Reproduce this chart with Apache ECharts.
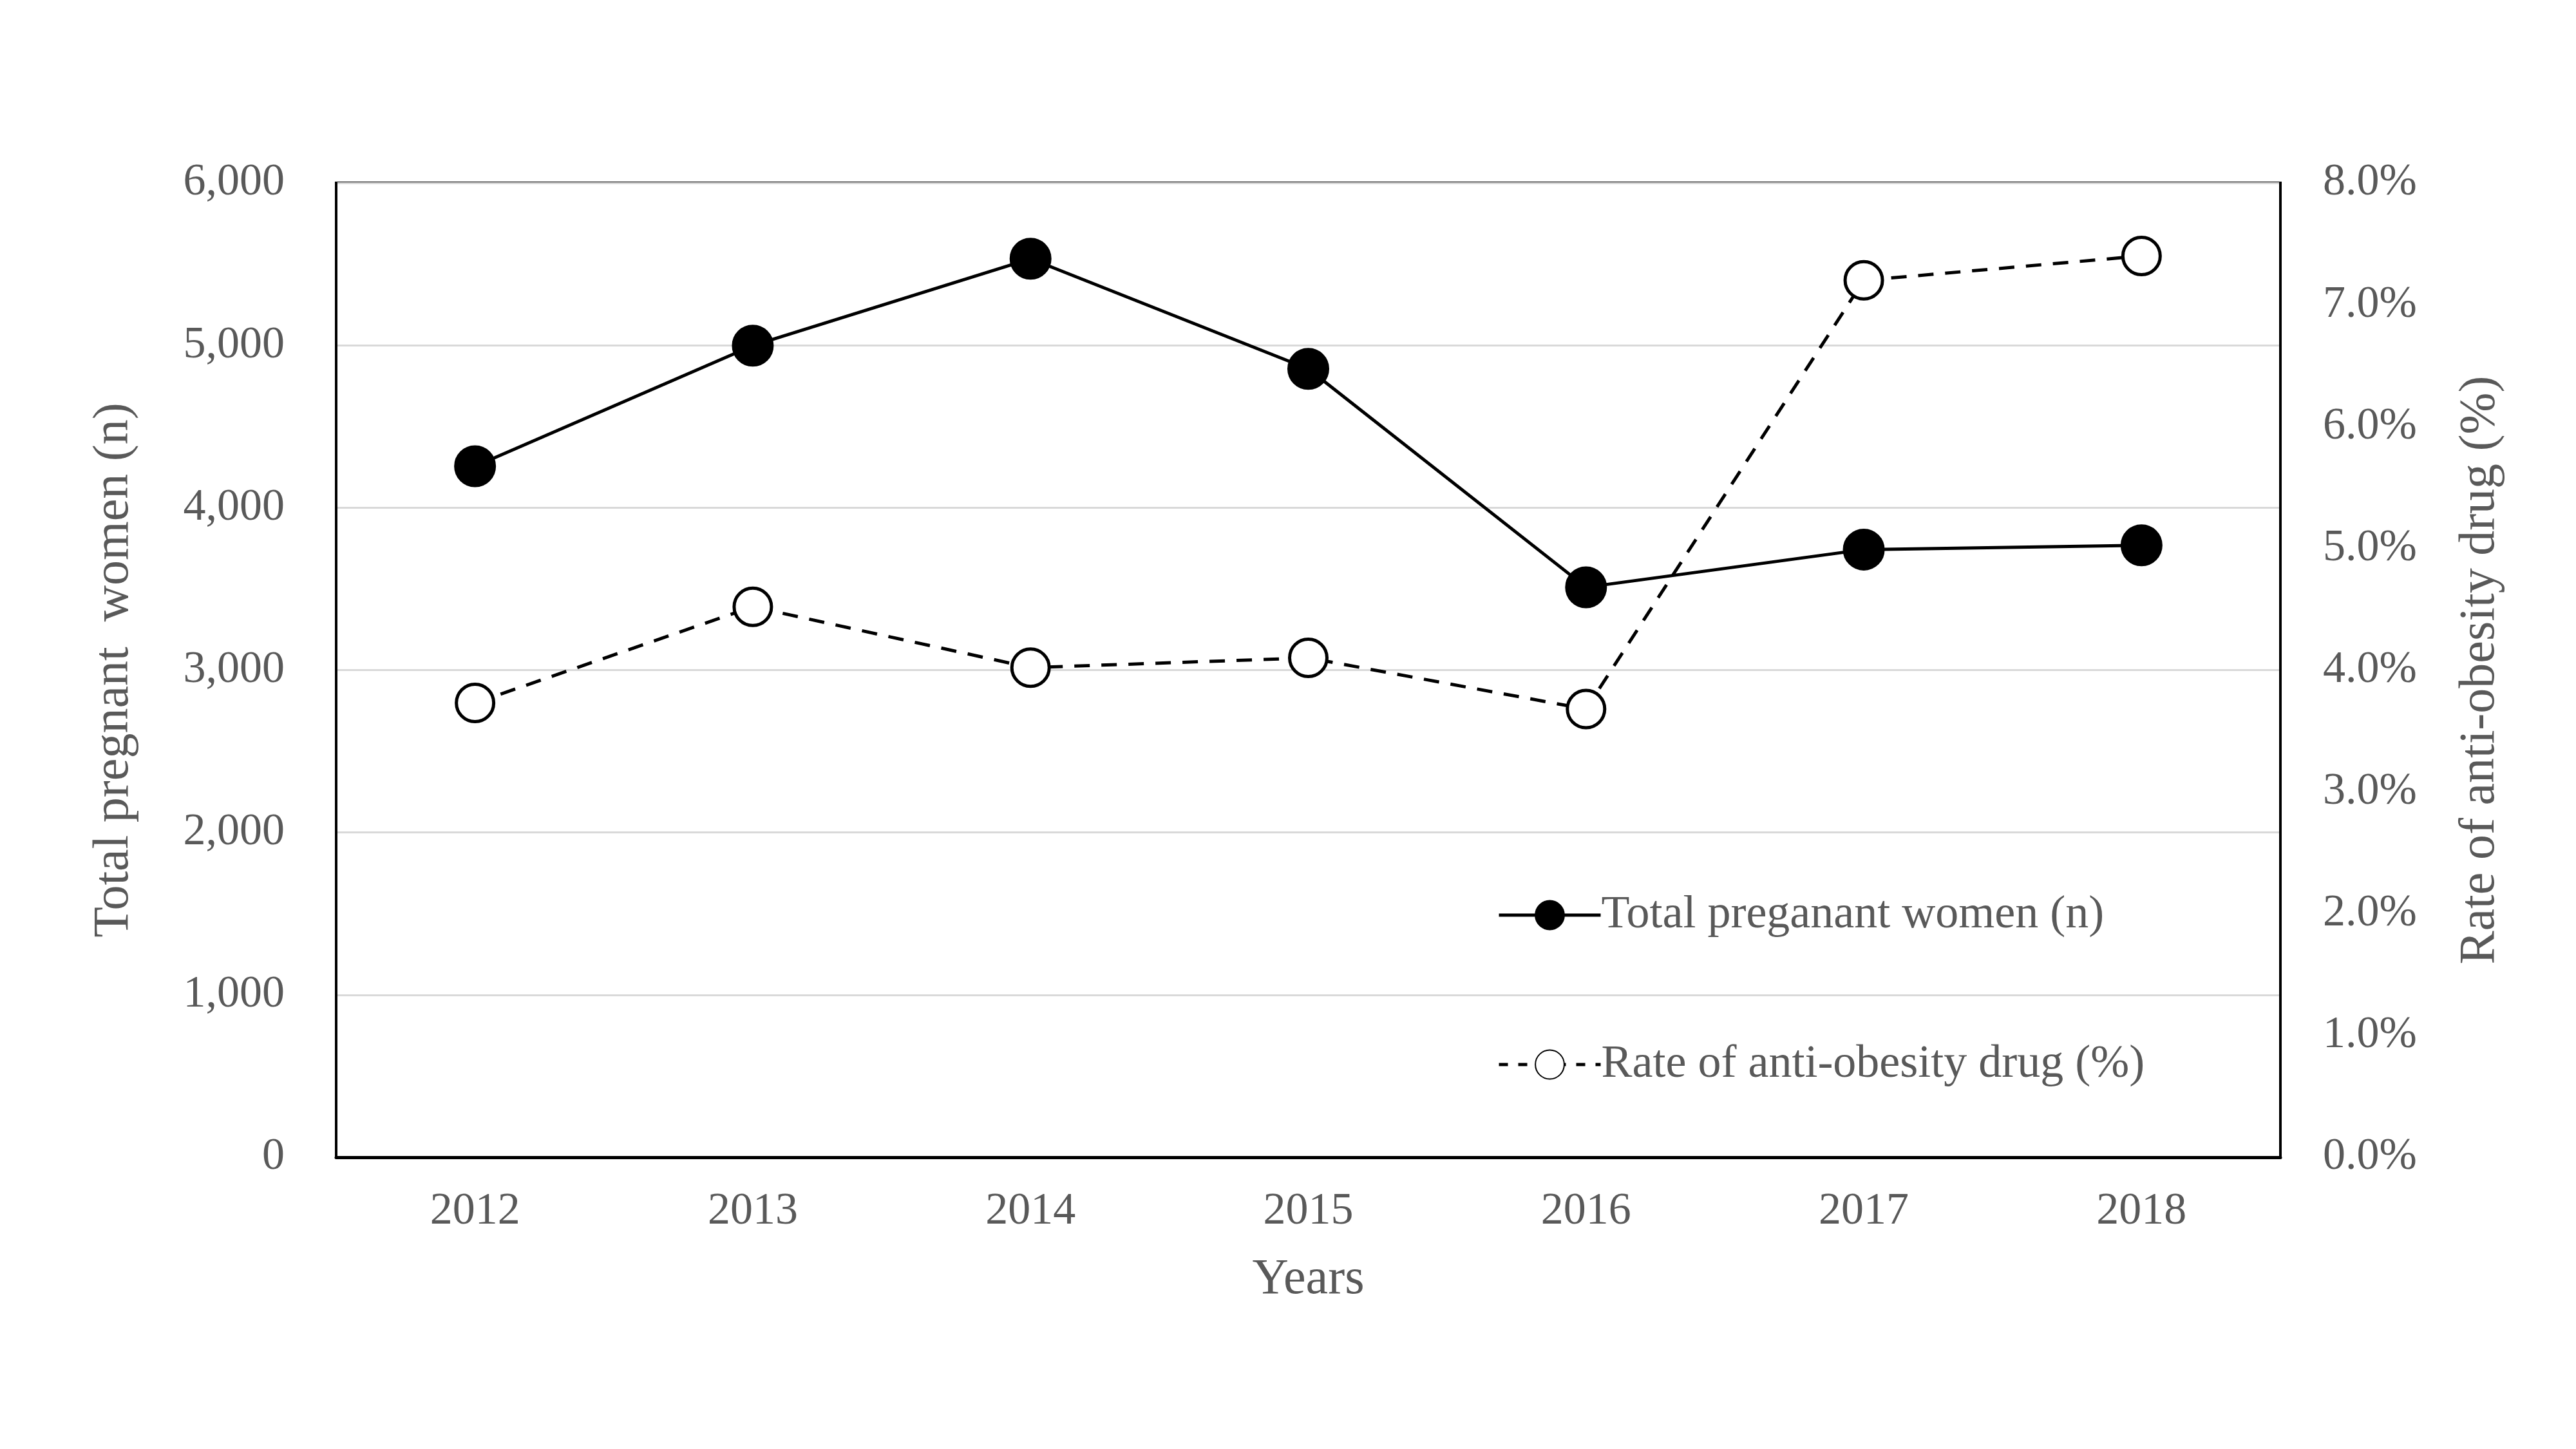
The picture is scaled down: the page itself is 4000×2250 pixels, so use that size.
<!DOCTYPE html>
<html>
<head>
<meta charset="utf-8">
<script src="https://cdn.jsdelivr.net/npm/echarts@6/dist/echarts.min.js"></script>
<style>html,body{margin:0;padding:0;background:#fff}#c{width:4000px;height:2250px}</style>
</head>
<body>
<div id="c"></div>
<script>
const years = ['2012','2013','2014','2015','2016','2017','2018'];
const totalWomen = [4255, 4998, 5533, 4855, 3510, 3742, 3768];
const drugRate = [3.73, 4.52, 4.02, 4.10, 3.68, 7.20, 7.40];
const leftTicks = {min: 0, max: 6000, interval: 1000};
const rightTicks = {min: 0, max: 8, interval: 1};
const nameTotal = 'Total preganant women (n)';
const nameRate = 'Rate of anti-obesity drug (%)';

const font = 'Liberation Serif';
const grey = '#595959';
const chart = echarts.init(document.getElementById('c'));
chart.setOption({
  backgroundColor: '#fff',
  animation: false,
  textStyle: {fontFamily: font},
  grid: {left: 522, right: 459, top: 284, bottom: 453, show: true, borderColor: '#000', borderWidth: 4, backgroundColor: 'transparent'},
  legend: [
    {data: [nameTotal], left: 2320, top: 1380, orient: 'vertical', itemWidth: 158, itemHeight: 56, itemGap: 10,
     lineStyle: {width: 5, color: '#000'},
     textStyle: {fontFamily: font, fontSize: 72, color: grey, padding: [0,0,0,-4]}},
    {data: [nameRate], left: 2320, top: 1612, orient: 'vertical', itemWidth: 158, itemHeight: 56, itemGap: 10,
     lineStyle: {width: 5, color: '#000', type: [14, 16]},
     textStyle: {fontFamily: font, fontSize: 72, color: grey, padding: [0,0,0,-4]}}
  ],
  xAxis: {
    type: 'category', data: years, boundaryGap: true,
    name: 'Years', nameLocation: 'middle', nameGap: 152,
    nameTextStyle: {fontFamily: font, fontSize: 78, color: grey},
    axisLine: {show: true, lineStyle: {color: '#000', width: 5}},
    axisTick: {show: false},
    axisLabel: {fontFamily: font, fontSize: 70, color: grey, margin: 50},
    splitLine: {show: false}
  },
  yAxis: [
    {
      type: 'value', min: leftTicks.min, max: leftTicks.max, interval: leftTicks.interval,
      name: 'Total pregnant  women (n)', nameLocation: 'middle', nameGap: 305, nameRotate: 90,
      nameTextStyle: {fontFamily: font, fontSize: 78, color: grey},
      axisLine: {show: true, lineStyle: {color: '#000', width: 4}},
      axisTick: {show: false},
      axisLabel: {fontFamily: font, fontSize: 70, color: grey, margin: 80,
        formatter: v => v.toLocaleString('en-US')},
      splitLine: {show: true, lineStyle: {color: '#d9d9d9', width: 3}}
    },
    {
      type: 'value', min: rightTicks.min, max: rightTicks.max, interval: rightTicks.interval, position: 'right',
      name: 'Rate of anti-obesity drug (%)', nameLocation: 'middle', nameGap: 272, nameRotate: 90,
      nameTextStyle: {fontFamily: font, fontSize: 78, color: grey},
      axisLine: {show: true, lineStyle: {color: '#000', width: 4}},
      axisTick: {show: false},
      axisLabel: {fontFamily: font, fontSize: 70, color: grey, margin: 66,
        formatter: v => v.toFixed(1) + '%'},
      splitLine: {show: false}
    }
  ],
  series: [
    {
      name: nameTotal, type: 'line', yAxisIndex: 0, data: totalWomen,
      symbol: 'circle', symbolSize: 62, z: 3,
      lineStyle: {color: '#000', width: 5, type: 'solid'},
      itemStyle: {color: '#000', borderColor: '#000', borderWidth: 3}
    },
    {
      name: nameRate, type: 'line', yAxisIndex: 1, data: drugRate,
      symbol: 'circle', symbolSize: 58, z: 3,
      lineStyle: {color: '#000', width: 5, type: [24, 18]},
      itemStyle: {color: '#fff', borderColor: '#000', borderWidth: 5}
    }
  ]
});
</script>
</body>
</html>
